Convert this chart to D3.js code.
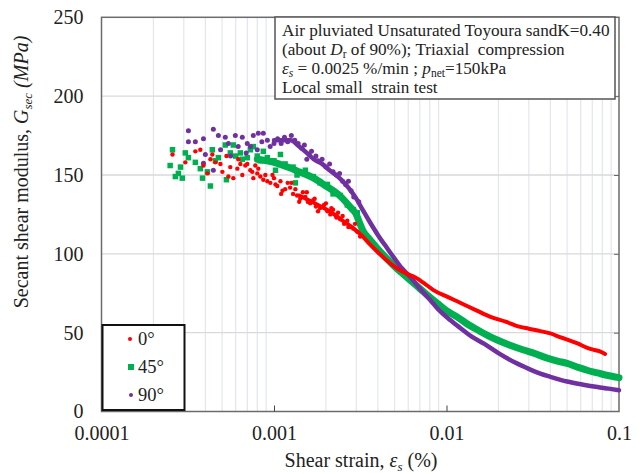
<!DOCTYPE html>
<html><head><meta charset="utf-8">
<script src="https://cdn.jsdelivr.net/npm/d3@7"></script>
<style>body{margin:0;background:#fff}svg{display:block}text{font-family:"Liberation Serif","Times New Roman",serif;fill:#222}</style>
</head><body><svg id="c" width="642" height="474"></svg>
<script>
// ---- data (strain %, Gsec MPa) ----
const xTicks = [0.0001, 0.001, 0.01, 0.1];
const xTickLabels = ["0.0001", "0.001", "0.01", "0.1"];
const yTicks = [0, 50, 100, 150, 200, 250];
const seriesNames = ["0°", "45°", "90°"];

const redScatter = [[2.58e-4,163],[3.06e-4,158],[3.5e-4,165],[3.74e-4,166],[3.9e-4,156],[4.11e-4,151],[4.28e-4,160],[4.39e-4,163],[4.57e-4,158],[4.89e-4,157],[5.02e-4,152],[5.3e-4,162],[5.44e-4,149],[5.58e-4,155],[5.81e-4,148],[6.13e-4,154],[6.21e-4,160],[6.38e-4,157],[6.55e-4,150],[6.82e-4,156],[7.0e-4,157],[7.29e-4,153],[7.48e-4,152],[7.59e-4,148],[7.79e-4,156],[8.0e-4,151],[8.11e-4,154],[8.33e-4,149],[8.67e-4,147],[8.91e-4,150],[9.15e-4,146],[9.52e-4,145],[9.8e-4,150],[1.0e-3,148],[1.02e-3,144],[1.045e-3,143],[1.09e-3,146],[1.12e-3,140],[1.16e-3,141],[1.2e-3,145],[1.24e-3,142],[1.29e-3,138],[1.33e-3,141],[1.36e-3,137],[1.42e-3,135],[1.47e-3,139],[1.52e-3,136],[1.57e-3,133],[1.62e-3,132],[1.69e-3,134],[1.75e-3,130],[1.85e-3,129],[1.95e-3,131],[2.04e-3,127],[2.12e-3,125],[2.2e-3,128],[2.3e-3,123],[2.42e-3,122],[2.55e-3,119],[2.66e-3,121],[2.77e-3,117],[2.88e-3,116],[3.04e-3,114],[3.16e-3,111],[1.1e-3,138],[1.26e-3,145],[1.4e-3,133],[1.55e-3,139],[1.72e-3,135],[1.8e-3,127],[2.0e-3,132],[2.15e-3,129],[2.35e-3,126],[2.5e-3,124],[2.7e-3,117],[2.95e-3,119]];
const redCurve = [[1.4e-3,137],[1.8e-3,131],[2.1e-3,127],[2.5e-3,121],[2.9e-3,116],[3.2e-3,112],[3.6e-3,106],[4.0e-3,101],[4.6e-3,95],[5.3e-3,90],[6.0e-3,87],[6.6e-3,85],[7.5e-3,81],[8.4e-3,77],[1.0e-2,73],[1.2e-2,69],[1.5e-2,64],[1.8e-2,60],[2.2e-2,57],[2.6e-2,54],[3.0e-2,52.5],[3.5e-2,51],[4.0e-2,49.5],[4.6e-2,47],[5.2e-2,45],[5.8e-2,43],[6.5e-2,40.5],[7.2e-2,39],[7.8e-2,38],[8.3e-2,36.5]];

const greenScatter = [[2.5e-4,156],[2.58e-4,166],[2.68e-4,149],[2.79e-4,151],[2.87e-4,155],[2.94e-4,148],[3.06e-4,164],[3.19e-4,161],[3.5e-4,158],[3.74e-4,154],[3.85e-4,148],[4.11e-4,152],[4.28e-4,143],[4.39e-4,166],[4.57e-4,159],[4.76e-4,161],[5.22e-4,169],[5.3e-4,147],[5.58e-4,164],[5.81e-4,169],[6.0e-4,162],[6.38e-4,164],[6.55e-4,160],[7.0e-4,161],[7.3e-4,166],[7.59e-4,168],[8.0e-4,162],[8.33e-4,159],[8.67e-4,165],[9.15e-4,161],[1.0e-3,159],[1.02e-3,153],[1.09e-3,163],[1.16e-3,157],[1.29e-3,155],[1.33e-3,145],[1.36e-3,150],[1.52e-3,153],[1.69e-3,149],[1.85e-3,145],[2.04e-3,144],[2.2e-3,138],[2.42e-3,137],[2.66e-3,131],[2.88e-3,128],[3.04e-3,126]];
const greenCurve = [[8.0e-4,160],[1.0e-3,158],[1.2e-3,155],[1.4e-3,152],[1.7e-3,148],[2.0e-3,143],[2.4e-3,137],[2.8e-3,129],[3.0e-3,125],[3.1e-3,121],[3.3e-3,114],[3.6e-3,109],[4.0e-3,103],[4.5e-3,97],[5.0e-3,92],[5.5e-3,88],[6.2e-3,83],[7.0e-3,78],[8.0e-3,72.5],[9.0e-3,68],[1.0e-2,64],[1.15e-2,60],[1.3e-2,56],[1.5e-2,52],[1.75e-2,48],[2.0e-2,45],[2.4e-2,41.5],[2.8e-2,39],[3.2e-2,37],[3.8e-2,34],[4.4e-2,32],[5.0e-2,30.5],[5.8e-2,28],[6.6e-2,26],[7.5e-2,24.5],[8.5e-2,23],[1.0e-1,21.5]];

const purpleScatter = [[3.19e-4,178],[3.19e-4,171],[3.5e-4,171],[3.9e-4,173],[4.45e-4,179],[4.76e-4,175],[5.22e-4,174],[5.44e-4,170],[5.97e-4,175],[6.55e-4,174],[7.0e-4,170],[7.59e-4,175],[8.11e-4,176.5],[8.67e-4,176.5],[9.15e-4,172],[1.0e-3,170],[3.9e-4,157.5],[4.45e-4,153],[4.0e-4,163],[4.9e-4,166],[5.6e-4,162],[6.2e-4,168],[6.9e-4,164],[7.3e-4,168],[8.0e-4,166],[8.5e-4,171],[9.5e-4,168],[1.05e-3,173],[1.1e-3,170],[1.15e-3,174],[1.2e-3,171],[1.26e-3,175],[1.32e-3,172],[1.38e-3,170],[1.45e-3,167],[1.5e-3,169],[1.6e-3,163],[1.65e-3,165],[1.8e-3,159],[1.9e-3,160],[2.0e-3,155],[2.2e-3,152],[2.3e-3,150],[2.5e-3,146],[2.6e-3,144],[2.8e-3,140],[1.55e-3,160],[1.75e-3,162],[2.1e-3,157],[2.4e-3,151],[2.7e-3,146],[2.9e-3,136],[3.1e-3,133]];
const purpleCurve = [[1.0e-3,172],[1.1e-3,172],[1.25e-3,172],[1.4e-3,168],[1.55e-3,164],[1.7e-3,160],[1.9e-3,157],[2.1e-3,153],[2.4e-3,148],[2.7e-3,142],[3.0e-3,135],[3.3e-3,127],[3.6e-3,120],[4.0e-3,112],[4.5e-3,104],[5.0e-3,97],[5.5e-3,91],[6.2e-3,85],[7.0e-3,78],[8.0e-3,71],[9.0e-3,64.5],[1.05e-2,58],[1.2e-2,53],[1.4e-2,47.5],[1.65e-2,43],[2.0e-2,37],[2.5e-2,31],[3.0e-2,27],[3.5e-2,24],[4.0e-2,22],[5.0e-2,19],[6.2e-2,17],[7.5e-2,15.5],[8.7e-2,14.5],[1.0e-1,13.5]];

// ---- chart ----
const svg = d3.select("#c");
const L = 101.5, R = 619, T = 17.3, B = 411.5;
const x = d3.scaleLog().domain([1e-4, 0.1]).range([L, R]);
const y = d3.scaleLinear().domain([0, 250]).range([B, T]);

// grid
const minor = [];
[1e-4, 1e-3, 1e-2].forEach(d => { for (let k = 2; k <= 9; k++) minor.push(d * k); });
svg.append("g").selectAll("line").data(minor).join("line")
  .attr("x1", d => x(d)).attr("x2", d => x(d)).attr("y1", T).attr("y2", B)
  .attr("stroke", "#e1e6ef").attr("stroke-width", 1.2);
svg.append("g").selectAll("line").data(yTicks.slice(1, -1)).join("line")
  .attr("x1", L).attr("x2", R).attr("y1", d => y(d)).attr("y2", d => y(d))
  .attr("stroke", "#d9d9d9").attr("stroke-width", 1.3);

// frame
svg.append("rect").attr("x", L).attr("y", T).attr("width", R - L).attr("height", B - T)
  .attr("fill", "none").attr("stroke", "#6b6b6b").attr("stroke-width", 1.5);

// axes (ticks inside)
const xAxis = d3.axisBottom(x).tickValues(xTicks).tickFormat((d, i) => xTickLabels[i]).tickSize(-6).tickPadding(14);
const gx = svg.append("g").attr("transform", `translate(0,${B})`).call(xAxis);
gx.select(".domain").remove();
gx.selectAll(".tick line").attr("stroke", "#444").filter(d => d === 1e-4 || d === 0.1).remove();
gx.selectAll("text").attr("font-size", 20).attr("fill", "#222").attr("font-family", "Liberation Serif");

const yAxis = d3.axisLeft(y).tickValues(yTicks).tickSize(0).tickPadding(18);
const gy = svg.append("g").attr("transform", `translate(${L},0)`).call(yAxis);
gy.select(".domain").remove();
gy.selectAll("text").attr("font-size", 20).attr("fill", "#222").attr("font-family", "Liberation Serif");

const yAxisR = d3.axisRight(y).tickValues(yTicks.slice(1, -1)).tickSize(-5).tickFormat("");
const gyr = svg.append("g").attr("transform", `translate(${R},0)`).call(yAxisR);
gyr.select(".domain").remove();
gyr.selectAll(".tick line").attr("stroke", "#666");

// series
const line = d3.line().x(d => x(d[0])).y(d => y(d[1])).curve(d3.curveMonotoneX);
const plot = svg.append("g");
function curve(data, color, w) {
  plot.append("path").datum(data).attr("d", line).attr("fill", "none")
    .attr("stroke", color).attr("stroke-width", w).attr("stroke-linecap", "round").attr("stroke-linejoin", "round");
}
function squares(data, color, s) {
  plot.append("g").selectAll("rect").data(data).join("rect")
    .attr("x", d => x(d[0]) - s / 2).attr("y", d => y(d[1]) - s / 2).attr("width", s).attr("height", s).attr("fill", color);
}
function dots(data, color, r) {
  plot.append("g").selectAll("circle").data(data).join("circle")
    .attr("cx", d => x(d[0])).attr("cy", d => y(d[1])).attr("r", r).attr("fill", color);
}
const cG = "#00b050", cP = "#7030a0", cR = "#ff0000";
curve(greenCurve, cG, 7); squares(greenScatter, cG, 5.5);
curve(purpleCurve, cP, 4.5); dots(purpleScatter, cP, 2.5);
curve(redCurve, cR, 4); dots(redScatter, cR, 2.2);

// legend
const lg = svg.append("g");
lg.append("rect").attr("x", 102.5).attr("y", 325).attr("width", 82).attr("height", 85)
  .attr("fill", "#fff").attr("stroke", "#111").attr("stroke-width", 2);
const ly = [339, 367, 395];
lg.append("circle").attr("cx", 130).attr("cy", ly[0]).attr("r", 2).attr("fill", cR);
lg.append("rect").attr("x", 128).attr("y", ly[1] - 3).attr("width", 6).attr("height", 6).attr("fill", cG);
lg.append("circle").attr("cx", 131).attr("cy", ly[2]).attr("r", 2).attr("fill", cP);
lg.selectAll("text.l").data(seriesNames).join("text").attr("class", "l")
  .attr("x", 138).attr("y", (d, i) => ly[i] + 6).attr("font-size", 18.5).text(d => d);

// annotation box
const ab = svg.append("g");
ab.append("rect").attr("x", 275).attr("y", 17).attr("width", 340).attr("height", 82)
  .attr("fill", "#fff").attr("stroke", "#555").attr("stroke-width", 1.5);
const fs = 17.2, ax = 282;
ab.append("text").attr("x", ax).attr("y", 36).attr("font-size", fs).text("Air pluviated Unsaturated Toyoura sandK=0.40");
const t2 = ab.append("text").attr("x", ax).attr("y", 55).attr("font-size", fs);
t2.append("tspan").text("(about ");
t2.append("tspan").attr("font-style", "italic").text("D");
t2.append("tspan").attr("font-size", 11.5).attr("dy", 3).text("r");
t2.append("tspan").attr("dy", -3).text(" of 90%); Triaxial\u00a0 compression");
const t3 = ab.append("text").attr("x", ax).attr("y", 74).attr("font-size", fs);
t3.append("tspan").attr("font-style", "italic").text("ε");
t3.append("tspan").attr("font-style", "italic").attr("font-size", 11.5).attr("dy", 3).text("s");
t3.append("tspan").attr("dy", -3).text(" = 0.0025 %/min ; ");
t3.append("tspan").attr("font-style", "italic").text("p");
t3.append("tspan").attr("font-size", 11.5).attr("dy", 3).text("net");
t3.append("tspan").attr("dy", -3).text("=150kPa");
ab.append("text").attr("x", ax).attr("y", 93).attr("font-size", fs).text("Local small\u00a0 strain test");

// axis titles
const xt = svg.append("text").attr("x", 361).attr("y", 467).attr("text-anchor", "middle").attr("font-size", 20);
xt.append("tspan").text("Shear strain, ");
xt.append("tspan").attr("font-style", "italic").text("ε");
xt.append("tspan").attr("font-style", "italic").attr("font-size", 13).attr("dy", 4).text("s");
xt.append("tspan").attr("dy", -4).text(" (%)");

const yt = svg.append("text").attr("transform", "translate(28,172) rotate(-90)").attr("text-anchor", "middle").attr("font-size", 20);
yt.append("tspan").text("Secant shear modulus, ");
yt.append("tspan").attr("font-style", "italic").text("G");
yt.append("tspan").attr("font-style", "italic").attr("font-size", 13).attr("dy", 4).text("sec");
yt.append("tspan").attr("dy", -4).attr("font-style", "italic").text(" (MPa)");
</script></body></html>
